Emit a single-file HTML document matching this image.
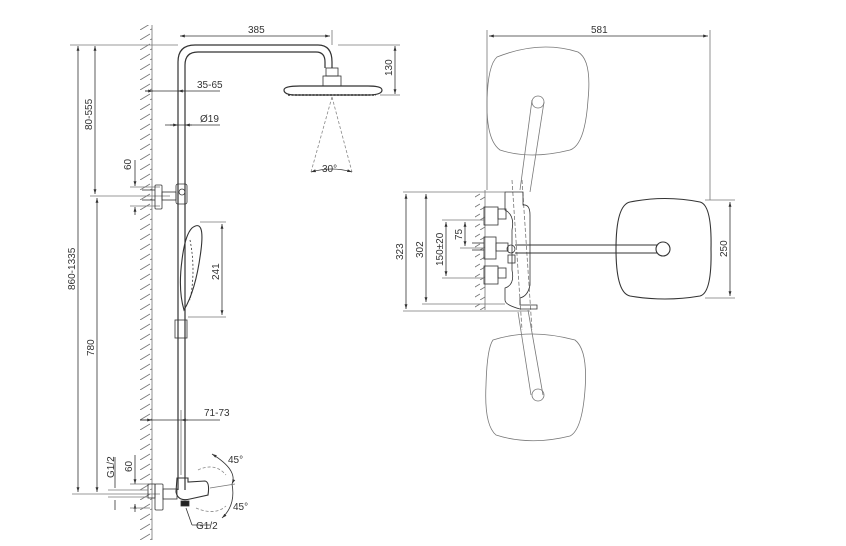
<!DOCTYPE html>
<html><head><meta charset="utf-8"><style>
html,body{margin:0;padding:0;background:#fff}
svg{display:block}
text{font-family:"Liberation Sans",sans-serif;font-size:10px;fill:#333}
</style></head><body>
<svg width="846" height="546" viewBox="0 0 846 546" xmlns="http://www.w3.org/2000/svg">
<defs>
<pattern id="h" width="10" height="10" patternUnits="userSpaceOnUse"><path d="M0 10 L10 4" stroke="#777" stroke-width="0.9"/></pattern>
<marker id="a" viewBox="0 0 10 10" refX="10" refY="5" markerWidth="6" markerHeight="6" orient="auto-start-reverse"><path d="M0 2 L10 5 L0 8z" fill="#333"/></marker>
</defs>
<g stroke="#333" fill="none" stroke-width="0.8">
<rect x="140" y="25" width="12" height="515" fill="url(#h)" stroke="none"/>
<line x1="152" y1="25" x2="152" y2="540" stroke="#777"/>
<path d="M178 490 V62 Q178 45 195 45 H318 Q332 45 332 62 V68" stroke-width="1.2"/>
<path d="M185 490 V65 Q185 52 198 52 H316 Q325 52 325 62 V68" stroke-width="1.2"/>
<rect x="326" y="68" width="12" height="8"/>
<rect x="323" y="76" width="18" height="10"/>
<path d="M284 90 Q284 86 300 86 H368 Q382 86 382 90 Q382 95 368 95 H296 Q284 95 284 90z" stroke-width="1.2"/>
<path d="M288 95 L376 95" stroke-dasharray="2 1.5" stroke-width="1.6"/>
<path d="M332 97 L311 172 M332 97 L352 172" stroke="#888" stroke-dasharray="3 2"/>
<path d="M311 172 Q332 166 352 172" marker-start="url(#a)" marker-end="url(#a)"/>
<line x1="180" y1="36" x2="330" y2="36" marker-start="url(#a)" marker-end="url(#a)"/>
<line x1="332" y1="30" x2="332" y2="45" stroke="#777"/>
<line x1="338" y1="45" x2="400" y2="45" stroke="#777"/>
<line x1="380" y1="95" x2="400" y2="95" stroke="#777"/>
<line x1="395" y1="46" x2="395" y2="94" marker-start="url(#a)" marker-end="url(#a)"/>
<line x1="145" y1="91" x2="220" y2="91"/>
<line x1="145" y1="91" x2="153" y2="91" marker-end="url(#a)"/>
<line x1="185" y1="91" x2="178" y2="91" marker-end="url(#a)"/>
<line x1="165" y1="125" x2="220" y2="125"/>
<line x1="170" y1="125" x2="178" y2="125" marker-end="url(#a)"/>
<line x1="192" y1="125" x2="185" y2="125" marker-end="url(#a)"/>
<line x1="70" y1="45" x2="178" y2="45" stroke="#777"/>
<line x1="78" y1="46" x2="78" y2="492" marker-start="url(#a)" marker-end="url(#a)"/>
<line x1="95" y1="46" x2="95" y2="194" marker-start="url(#a)" marker-end="url(#a)"/>
<line x1="90" y1="196" x2="170" y2="196" stroke="#777"/>
<line x1="97" y1="198" x2="97" y2="492" marker-start="url(#a)" marker-end="url(#a)"/>
<line x1="72" y1="494" x2="160" y2="494" stroke="#777"/>
<line x1="135" y1="160" x2="135" y2="186" marker-end="url(#a)"/>
<line x1="135" y1="215" x2="135" y2="207" marker-end="url(#a)"/>
<line x1="130" y1="187" x2="160" y2="187" stroke="#777"/>
<line x1="130" y1="206" x2="160" y2="206" stroke="#777"/>
<line x1="142" y1="190" x2="155" y2="190"/><line x1="142" y1="200" x2="155" y2="200"/>
<rect x="155" y="185" width="7" height="24" rx="1"/>
<rect x="162" y="192" width="14" height="8"/>
<rect x="176" y="184" width="11" height="20" rx="2"/>
<circle cx="182" cy="192" r="3"/>
<path d="M192 228 Q205 218 201 250 Q196 290 184 310 Q178 290 182 260 Q185 235 192 228z" stroke-width="1.1"/>
<path d="M190 240 Q196 270 190 300" stroke-dasharray="2 2"/>
<line x1="200" y1="222" x2="226" y2="222" stroke="#777"/>
<line x1="188" y1="317" x2="226" y2="317" stroke="#777"/>
<line x1="222" y1="224" x2="222" y2="315" marker-start="url(#a)" marker-end="url(#a)"/>
<rect x="175" y="320" width="12" height="18"/>
<line x1="140" y1="420" x2="220" y2="420"/>
<line x1="140" y1="420" x2="152" y2="420" marker-end="url(#a)"/>
<line x1="188" y1="420" x2="181" y2="420" marker-end="url(#a)"/>
<line x1="181" y1="410" x2="181" y2="475" stroke="#777"/>
<rect x="148" y="484" width="7" height="14"/>
<rect x="155" y="484" width="8" height="26" rx="1"/>
<rect x="163" y="489" width="14" height="10"/>
<path d="M177 478 H188 V482 L205 481 Q210 482 208 495 L190 499 Q178 502 176 492z" stroke-width="1.1"/>
<rect x="181" y="501" width="8" height="5" fill="#222"/>
<path d="M198 470 Q215 462 226 475 M196 508 Q215 516 226 506" stroke="#888" stroke-dasharray="3 2"/>
<path d="M212 454 Q238 470 232 484" marker-start="url(#a)" marker-end="url(#a)"/>
<path d="M232 484 Q236 505 222 518" marker-end="url(#a)"/>
<line x1="210" y1="488" x2="235" y2="484" stroke="#777"/>
<line x1="115" y1="488" x2="115" y2="457"/><line x1="115" y1="500" x2="115" y2="510"/>
<line x1="135" y1="455" x2="135" y2="484" marker-end="url(#a)"/>
<line x1="135" y1="512" x2="135" y2="504" marker-end="url(#a)"/>
<line x1="130" y1="484" x2="150" y2="484" stroke="#777"/>
<line x1="130" y1="508" x2="150" y2="508" stroke="#777"/>
<line x1="108" y1="490" x2="148" y2="490" stroke="#777"/>
<line x1="108" y1="497" x2="148" y2="497" stroke="#777"/>
<line x1="186" y1="508" x2="192" y2="525"/><line x1="192" y1="525" x2="210" y2="525"/>

<line x1="487" y1="30" x2="487" y2="190" stroke="#777"/>
<line x1="710" y1="30" x2="710" y2="200" stroke="#777"/>
<line x1="489" y1="36" x2="708" y2="36" marker-start="url(#a)" marker-end="url(#a)"/>
<g stroke="#777">
<path d="M497 57 Q540 40 578 52 Q592 60 588 100 Q585 145 570 150 Q530 160 500 150 Q486 140 487 100 Q488 65 497 57z"/>
<path d="M493 340 Q530 328 575 340 Q588 350 585 390 Q582 430 570 436 Q530 446 496 435 Q484 425 486 385 Q487 348 493 340z"/>
<path d="M532 100 L520 190 M544 102 L530 192" />
<path d="M518 312 L531 395 M528 310 L543 395"/>
<circle cx="538" cy="102" r="6"/><circle cx="538" cy="395" r="6"/>
<path d="M512 180 L522 330 M522 180 L532 330" stroke-dasharray="4 2"/>
</g>
<rect x="475" y="190" width="10" height="120" fill="url(#h)" stroke="none"/>
<line x1="485" y1="190" x2="485" y2="310" stroke="#777"/>
<path d="M505 192 H523 V205 Q530 204 530 215 V285 Q528 296 520 298 V305 H537 V309 H520 Q505 305 505 300 V288 Q515 285 512 270 V230 Q515 215 505 210z"/>
<rect x="484" y="207" width="14" height="18"/><rect x="498" y="209" width="8" height="10"/>
<rect x="484" y="266" width="14" height="18"/><rect x="498" y="268" width="8" height="10"/>
<rect x="484" y="237" width="12" height="22"/><line x1="472" y1="243" x2="484" y2="243"/><line x1="472" y1="250" x2="484" y2="250"/>
<rect x="496" y="243" width="12" height="8"/>
<circle cx="511" cy="249" r="4"/><rect x="508" y="255" width="7" height="8"/>
<line x1="515" y1="245" x2="663" y2="245" stroke-width="1.1"/>
<line x1="515" y1="253" x2="663" y2="253" stroke-width="1.1"/>
<circle cx="663" cy="249" r="7" fill="#fff" stroke-width="1.1"/>
<path d="M630 202 Q665 195 700 202 Q712 205 711 249 Q712 293 700 296 Q665 302 630 296 Q616 293 616 249 Q616 205 630 202z" stroke-width="1.1"/>
<line x1="705" y1="200" x2="735" y2="200" stroke="#777"/>
<line x1="705" y1="298" x2="735" y2="298" stroke="#777"/>
<line x1="730" y1="202" x2="730" y2="296" marker-start="url(#a)" marker-end="url(#a)"/>
<line x1="403" y1="192" x2="505" y2="192" stroke="#777"/>
<line x1="403" y1="311" x2="530" y2="311" stroke="#777"/>
<line x1="422" y1="304" x2="505" y2="304" stroke="#777"/>
<line x1="406" y1="194" x2="406" y2="309" marker-start="url(#a)" marker-end="url(#a)"/>
<line x1="426" y1="194" x2="426" y2="302" marker-start="url(#a)" marker-end="url(#a)"/>
<line x1="442" y1="220" x2="484" y2="220" stroke="#777"/>
<line x1="442" y1="278" x2="484" y2="278" stroke="#777"/>
<line x1="446" y1="222" x2="446" y2="276" marker-start="url(#a)" marker-end="url(#a)"/>
<line x1="460" y1="248" x2="484" y2="248" stroke="#777"/>
<line x1="465" y1="222" x2="465" y2="246" marker-start="url(#a)" marker-end="url(#a)"/>
</g>
<g>
<text x="248" y="33">385</text>
<text x="197" y="88">35-65</text>
<text x="200" y="122">Ø19</text>
<text x="322" y="172">30°</text>
<text x="228" y="463">45°</text>
<text x="233" y="510">45°</text>
<text x="196" y="529">G1/2</text>
<text x="204" y="416">71-73</text>
<text x="591" y="33">581</text>
<text transform="translate(392,76) rotate(-90)">130</text>
<text transform="translate(92,130) rotate(-90)">80-555</text>
<text transform="translate(75,290) rotate(-90)">860-1335</text>
<text transform="translate(94,356) rotate(-90)">780</text>
<text transform="translate(131,170) rotate(-90)">60</text>
<text transform="translate(219,280) rotate(-90)">241</text>
<text transform="translate(114,478) rotate(-90)">G1/2</text>
<text transform="translate(132,472) rotate(-90)">60</text>
<text transform="translate(403,260) rotate(-90)">323</text>
<text transform="translate(423,258) rotate(-90)">302</text>
<text transform="translate(443,266) rotate(-90)">150±20</text>
<text transform="translate(462,240) rotate(-90)">75</text>
<text transform="translate(727,257) rotate(-90)">250</text>
</g>
</svg>
</body></html>
